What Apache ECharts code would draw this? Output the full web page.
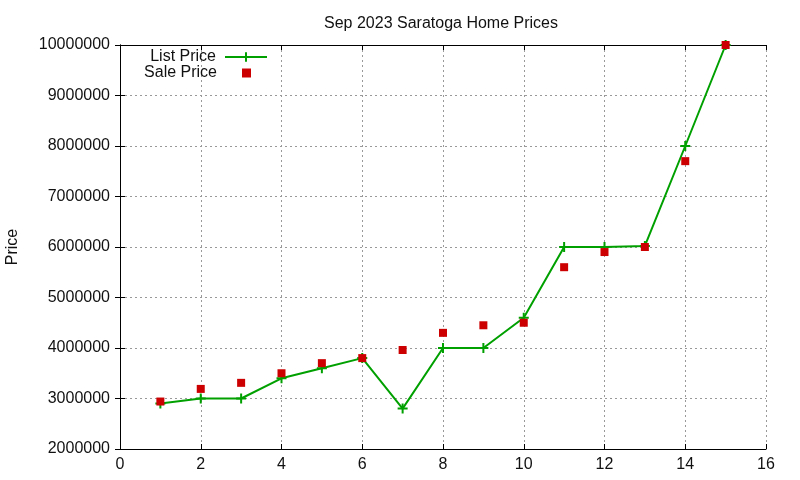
<!DOCTYPE html>
<html><head><meta charset="utf-8">
<script src="https://cdn.jsdelivr.net/npm/echarts@6/dist/echarts.min.js"></script>
<style>html,body{margin:0;padding:0;background:#fff}#c{width:800px;height:480px}</style>
</head><body><div id="c"></div>
<script>
const xValues = [1,2,3,4,5,6,7,8,9,10,11,12,13,14,15];
const listPrice = [2900000,3000000,3000000,3400000,3600000,3800000,2800000,4000000,4000000,4600000,6000000,6000000,6020000,8000000,10000000];
const salePrice = [2940000,3190000,3310000,3500000,3700000,3800000,3960000,4300000,4450000,4500000,5600000,5900000,6000000,7700000,10000000];
const titleText = 'Sep 2023 Saratoga Home Prices';
const yName = 'Price';

const FONT = 'Liberation Sans';
const chart = echarts.init(document.getElementById('c'));
const baseAxisLine = {show:true, lineStyle:{color:'#000', width:1}};
const tick = {show:true, inside:true, length:5, lineStyle:{color:'#000'}};
const grid = {show:true, type:[2,3], color:'#999', width:1};
chart.setOption({
  backgroundColor:'#fff',
  animation:false,
  title:{text:titleText, left:436, top:11, textAlign:'center',
    textStyle:{fontFamily:FONT, fontSize:16, fontWeight:'normal', color:'#111'}},
  grid:{left:120, right:34, top:45, bottom:31, containLabel:false, outerBoundsMode:'none'},
  legend:[
    {data:[{name:'List Price'}], orient:'vertical', align:'right', right:527, top:44,
     itemWidth:42, itemHeight:12, textStyle:{fontFamily:FONT, fontSize:16, color:'#111', padding:[0,4,0,0]}},
    {data:[{name:'Sale Price', icon:'rect'}], orient:'vertical', align:'right', right:544, top:60,
     itemWidth:9, itemHeight:9, textStyle:{fontFamily:FONT, fontSize:16, color:'#111', padding:[0,20,0,0]}}
  ],
  xAxis:[
    {type:'value', min:0, max:16, interval:2, position:'bottom',
     axisLine:baseAxisLine, axisTick:tick, splitLine:{show:true, lineStyle:grid},
     axisLabel:{fontFamily:FONT, fontSize:16, color:'#111', margin:8}},
    {type:'value', min:0, max:16, interval:2, position:'top',
     axisLine:baseAxisLine, axisTick:tick, splitLine:{show:false}, axisLabel:{show:false}}
  ],
  yAxis:[
    {type:'value', min:2000000, max:10000000, interval:1000000, position:'left',
     name:yName, nameLocation:'middle', nameGap:99, nameRotate:90,
     nameTextStyle:{fontFamily:FONT, fontSize:16, color:'#111'},
     axisLine:baseAxisLine, axisTick:tick, splitLine:{show:true, lineStyle:grid},
     axisLabel:{fontFamily:FONT, fontSize:16, color:'#111', margin:10, formatter:v=>String(v)}},
    {type:'value', min:2000000, max:10000000, interval:1000000, position:'right',
     axisLine:baseAxisLine, axisTick:tick, splitLine:{show:false}, axisLabel:{show:false}}
  ],
  series:[
    {name:'List Price', type:'line', data:xValues.map((x,i)=>[x,listPrice[i]]),
     xAxisIndex:0, yAxisIndex:0,
     symbol:'path://M5,0 V10 M0,5 H10', symbolSize:10, showSymbol:true,
     lineStyle:{color:'#00a000', width:2},
     itemStyle:{color:'rgba(0,0,0,0)', borderColor:'#00a000', borderWidth:2},
     z:2},
    {name:'Sale Price', type:'scatter', data:xValues.map((x,i)=>[x,salePrice[i]]),
     xAxisIndex:0, yAxisIndex:0,
     symbol:'rect', symbolSize:8, itemStyle:{color:'#cc0000', opacity:1}, z:3}
  ]
});
</script></body></html>
